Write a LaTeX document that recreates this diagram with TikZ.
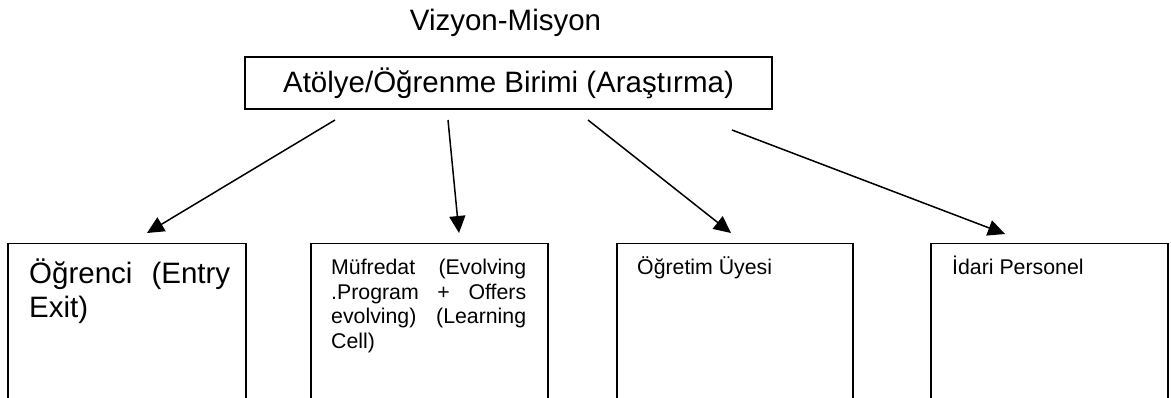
\documentclass[tikz,border=0pt]{standalone}
\usepackage{fontspec}
\setmainfont{Liberation Sans}
\usetikzlibrary{arrows.meta}
\begin{document}
\begin{tikzpicture}[x=1pt,y=-1pt,
  frame/.style={draw, line width=1.6pt, inner sep=0pt, outer sep=0pt},
  conn/.style={line width=1.5pt, -{Triangle[length=17pt,width=16pt]}},
  big/.style={font=\fontsize{29.5}{34}\selectfont},
  small/.style={font=\fontsize{21.3}{24.5}\selectfont},
  txt/.style={inner sep=0pt, anchor=base west}]
\useasboundingbox (0,0) rectangle (1171,398);

% heading and the central unit
\node[big, anchor=base, inner sep=0pt] (title) at (505.5,31) {Vizyon-Misyon};
\node[frame, minimum width=527pt, minimum height=52pt] (unit) at (508.5,83) {};
\node[big, anchor=base, inner sep=0pt] (unitt) at (508.5,93) {Atölye/Öğrenme Birimi (Araştırma)};

% the four member boxes (they run on past the lower page edge)
\node[frame, minimum width=238pt, minimum height=160pt, anchor=north west] (stu) at (8,243.5) {};
\node[frame, minimum width=237pt, minimum height=160pt, anchor=north west] (cur) at (311,243.5) {};
\node[frame, minimum width=236pt, minimum height=160pt, anchor=north west] (fac) at (617,243.5) {};
\node[frame, minimum width=237pt, minimum height=160pt, anchor=north west] (adm) at (931,243.5) {};

\node[txt, big] (stut) at (29,284)
  {\parbox[t]{201pt}{\makebox[201pt][s]{Öğrenci (Entry}\\Exit)}};
\node[txt, small] (curt) at (331,275)
  {\parbox[t]{195pt}{\makebox[195pt][s]{Müfredat (Evolving}\\
   \makebox[195pt][s]{.Program + Offers}\\
   \makebox[195pt][s]{evolving) (Learning}\\Cell)}};
\node[txt, small] (fact) at (637,275) {Öğretim Üyesi};
\node[txt, small] (admt) at (952,275) {İdari Personel};

% connector ends
\coordinate (s1) at (335,120);  \coordinate (e1) at (147,233);
\coordinate (s2) at (448,120);  \coordinate (e2) at (459,233);
\coordinate (s3) at (588,120);  \coordinate (e3) at (731,233);
\coordinate (s4) at (732,130);  \coordinate (e4) at (1005,234);

\draw[conn] (s1) -- (e1);
\draw[conn] (s2) -- (e2);
\draw[conn] (s3) -- (e3);
\draw[conn] (s4) -- (e4);
\end{tikzpicture}
\end{document}
